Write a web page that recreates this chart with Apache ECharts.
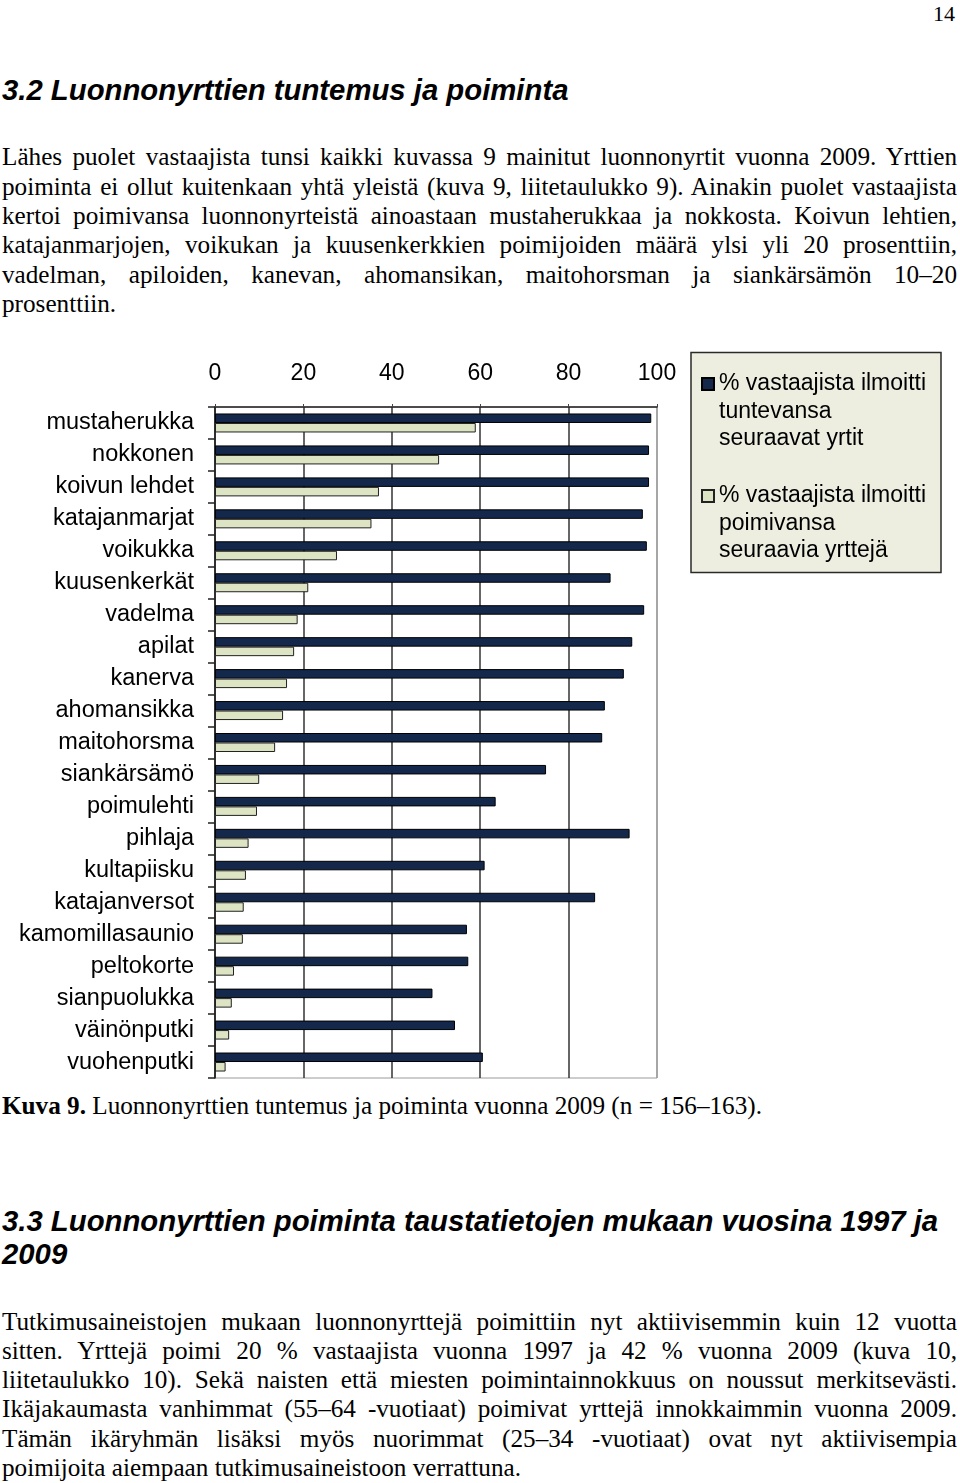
<!DOCTYPE html>
<html>
<head>
<meta charset="utf-8">
<script src="https://cdn.jsdelivr.net/npm/echarts@6/dist/echarts.min.js"></script>
<style>
  body { margin: 0; background: #fff; }
  .page { position: relative; width: 960px; height: 1483px; font-family: "Liberation Serif", "Times New Roman", serif; color: #000; overflow: hidden; }
  .abs { position: absolute; left: 2px; width: 955px; }
  .h { font-family: "Liberation Sans", Arial, sans-serif; font-weight: bold; font-style: italic; font-size: 29.3px; line-height: 33px; white-space: nowrap; }
  .p { font-size: 25.2px; line-height: 29.3px; }
  .p span { display: block; white-space: nowrap; text-align: justify; text-align-last: justify; }
  .p span.last { text-align: left; text-align-last: left; }
  #pagenum { position: absolute; top: 2px; right: 5px; font-size: 22px; line-height: 24px; }
  #chart { position: absolute; left: 0; top: 300px; width: 960px; height: 790px; }
</style>
</head>
<body>
<div class="page">
  <div id="pagenum">14</div>
  <div class="abs h" style="top:73px">3.2 Luonnonyrttien tuntemus ja poiminta</div>
  <div class="abs p" style="top:142.4px">
    <span>Lähes puolet vastaajista tunsi kaikki kuvassa 9 mainitut luonnonyrtit vuonna 2009. Yrttien</span>
    <span>poiminta ei ollut kuitenkaan yhtä yleistä (kuva 9, liitetaulukko 9). Ainakin puolet vastaajista</span>
    <span>kertoi poimivansa luonnonyrteistä ainoastaan mustaherukkaa ja nokkosta. Koivun lehtien,</span>
    <span>katajanmarjojen, voikukan ja kuusenkerkkien poimijoiden määrä ylsi yli 20 prosenttiin,</span>
    <span>vadelman, apiloiden, kanevan, ahomansikan, maitohorsman ja siankärsämön 10–20</span>
    <span class="last">prosenttiin.</span>
  </div>
  <div id="chart"></div>
  <div class="abs p" style="top:1091px"><span class="last"><b>Kuva 9.</b> Luonnonyrttien tuntemus ja poiminta vuonna 2009 (n = 156–163).</span></div>
  <div class="abs h" style="top:1203.5px">3.3 Luonnonyrttien poiminta taustatietojen mukaan vuosina 1997 ja<br>2009</div>
  <div class="abs p" style="top:1306.5px">
    <span>Tutkimusaineistojen mukaan luonnonyrttejä poimittiin nyt aktiivisemmin kuin 12 vuotta</span>
    <span>sitten. Yrttejä poimi 20 % vastaajista vuonna 1997 ja 42 % vuonna 2009 (kuva 10,</span>
    <span>liitetaulukko 10). Sekä naisten että miesten poimintainnokkuus on noussut merkitsevästi.</span>
    <span>Ikäjakaumasta vanhimmat (55–64 -vuotiaat) poimivat yrttejä innokkaimmin vuonna 2009.</span>
    <span>Tämän ikäryhmän lisäksi myös nuorimmat (25–34 -vuotiaat) ovat nyt aktiivisempia</span>
    <span class="last">poimijoita aiempaan tutkimusaineistoon verrattuna.</span>
  </div>
</div>
<script>
// yrtit ylhäältä alas
var categories = ['mustaherukka', 'nokkonen', 'koivun lehdet', 'katajanmarjat', 'voikukka',
  'kuusenkerkät', 'vadelma', 'apilat', 'kanerva', 'ahomansikka', 'maitohorsma', 'siankärsämö',
  'poimulehti', 'pihlaja', 'kultapiisku', 'katajanversot', 'kamomillasaunio', 'peltokorte',
  'sianpuolukka', 'väinönputki', 'vuohenputki'];

// % vastaajista ilmoitti tuntevansa
var knownPct = [98.7, 98.2, 98.2, 96.8, 97.7, 89.5, 97.1, 94.4, 92.5, 88.2, 87.6, 74.9,
  63.5, 93.8, 61.0, 86.0, 57.0, 57.3, 49.2, 54.3, 60.6];

// % vastaajista ilmoitti poimivansa
var pickedPct = [59.0, 50.7, 37.1, 35.4, 27.6, 21.1, 18.7, 17.9, 16.3, 15.4, 13.6, 10.0,
  9.5, 7.6, 7.0, 6.5, 6.3, 4.3, 3.8, 3.2, 2.4];

var seriesNames = ['% vastaajista ilmoitti\ntuntevansa\nseuraavat yrtit',
  '% vastaajista ilmoitti\npoimivansa\nseuraavia yrttejä'];

var axisMin = 0, axisMax = 100, axisStep = 20;

var font = '"Liberation Sans", Arial, sans-serif';

// legendan neliö ensimmäisen rivin kohdalle (kolmirivinen teksti)
var legendIcon = 'path://M0,7.75L12,7.75L12,19.75L0,19.75Z M0,0L0,0 M12,82.5L12,82.5';

var myChart = echarts.init(document.getElementById('chart'));

var option = {
  animation: false,
  textStyle: { fontFamily: font },
  grid: {
    left: 215,
    right: 303,
    top: 107,
    bottom: 12,
    show: true,
    borderColor: '#9a9a9a',
    borderWidth: 1
  },
  legend: {
    orient: 'vertical',
    left: 701,
    top: 69.25,
    padding: 0,
    itemGap: 27.5,
    itemWidth: 12,
    itemHeight: 82.5,
    icon: legendIcon,
    selectedMode: false,
    textStyle: {
      fontFamily: font,
      fontSize: 23,
      lineHeight: 27.5,
      color: '#000'
    },
    z: 10
  },
  graphic: [
    {
      type: 'rect',
      z: 1,
      shape: { x: 691, y: 52.5, width: 250, height: 220 },
      style: { fill: '#edeee0', stroke: '#2a2a2a', lineWidth: 1.5 }
    }
  ],
  xAxis: {
    type: 'value',
    position: 'top',
    min: axisMin,
    max: axisMax,
    interval: axisStep,
    axisLine: { show: true, lineStyle: { color: '#222', width: 1.5 } },
    axisTick: { show: true, length: 3, lineStyle: { color: '#444' } },
    axisLabel: { fontSize: 23, color: '#000', margin: 22 },
    splitLine: {
      show: true,
      lineStyle: { color: ['#333', '#333', '#333', '#333', '#333', '#9a9a9a'], width: 1.5 }
    }
  },
  yAxis: {
    type: 'category',
    inverse: true,
    data: categories,
    axisLine: { show: true, lineStyle: { color: '#222', width: 1.5 } },
    axisTick: { show: true, length: 7, lineStyle: { color: '#222', width: 1.5 } },
    axisLabel: { fontSize: 23.5, color: '#000', margin: 21, padding: [9, 0, 0, 0] }
  },
  series: [
    {
      name: seriesNames[0],
      type: 'bar',
      data: knownPct,
      barWidth: 9.5,
      barGap: '0%',
      itemStyle: { color: '#13284b', borderColor: '#000', borderWidth: 1 }
    },
    {
      name: seriesNames[1],
      type: 'bar',
      data: pickedPct,
      barWidth: 9.5,
      barGap: '0%',
      itemStyle: { color: '#dde4c4', borderColor: '#222', borderWidth: 1 }
    }
  ]
};

myChart.setOption(option);
</script>
</body>
</html>
